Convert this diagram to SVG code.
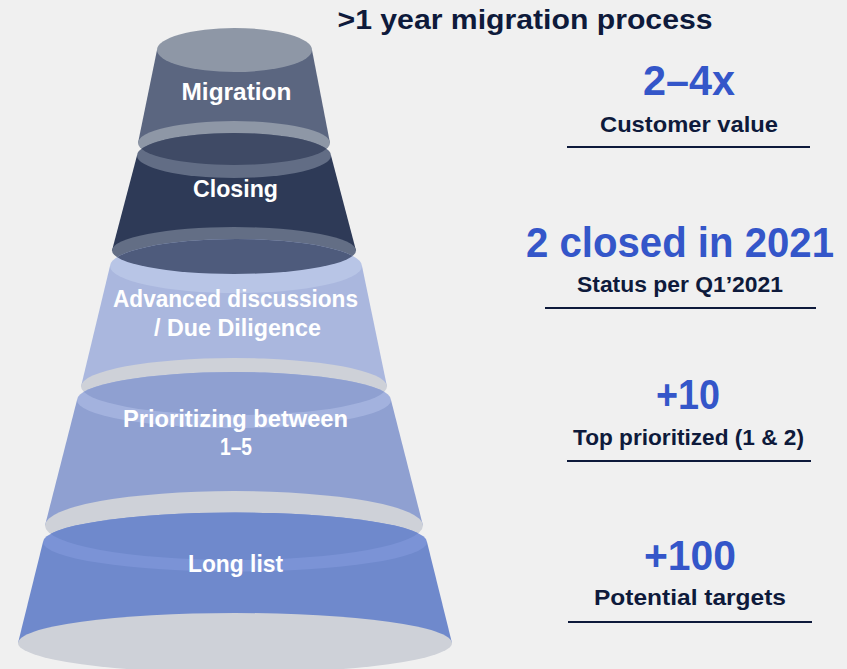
<svg xmlns="http://www.w3.org/2000/svg" width="847" height="669" viewBox="0 0 847 669">
  <style>
    .lbl { font-family: "Liberation Sans", Arial, sans-serif; font-weight: bold; font-size: 23px; fill: #ffffff; text-anchor: middle; }
    .title { font-family: "Liberation Sans", Arial, sans-serif; font-weight: bold; font-size: 27px; fill: #0e1a3b; text-anchor: middle; }
    .big { font-family: "Liberation Sans", Arial, sans-serif; font-weight: bold; font-size: 42px; fill: #3456c9; text-anchor: middle; }
    .sub { font-family: "Liberation Sans", Arial, sans-serif; font-weight: bold; font-size: 22px; fill: #0e1a3b; text-anchor: middle; }
    .rule { stroke: #0e1a3b; stroke-width: 2; }
  </style>
  <defs>
    <!-- bottom faces of each frustum, reused as clips for the overlap tint -->
    <clipPath id="clipA"><ellipse cx="234" cy="143" rx="96" ry="22"/></clipPath>
    <clipPath id="clipB"><ellipse cx="234" cy="250.5" rx="122" ry="23.5"/></clipPath>
    <clipPath id="clipC"><ellipse cx="234" cy="386.5" rx="153" ry="28.5"/></clipPath>
    <clipPath id="clipD"><ellipse cx="234" cy="525.5" rx="189" ry="34.5"/></clipPath>
  </defs>

  <rect width="847" height="669" fill="#f0f0f0"/>

  <!-- funnel tiers, top to bottom -->
  <g id="tier-migration">
    <polygon points="157,50 138,143 330,143 312,50" fill="#5b6680"/>
    <ellipse cx="234.5" cy="50" rx="77.5" ry="22" fill="#8e97a6"/>
    <ellipse cx="234" cy="143" rx="96" ry="22" fill="#8e97a6"/>
    <text class="lbl" x="236.5" y="100" textLength="110" lengthAdjust="spacingAndGlyphs">Migration</text>
  </g>

  <g id="tier-closing">
    <polygon points="137,155.5 112,250.5 356,250.5 331,155.5" fill="#2e3a57"/>
    <ellipse cx="234" cy="155.5" rx="97" ry="22.5" fill="#626d85"/>
    <ellipse cx="234" cy="155.5" rx="97" ry="22.5" fill="#3f4a65" clip-path="url(#clipA)"/>
    <ellipse cx="234" cy="250.5" rx="122" ry="23.5" fill="#636e85"/>
    <text class="lbl" x="235.5" y="197" textLength="85" lengthAdjust="spacingAndGlyphs">Closing</text>
  </g>

  <g id="tier-advanced">
    <polygon points="110,266 81,386.5 387,386.5 362,266" fill="#aab7de"/>
    <ellipse cx="236" cy="266" rx="126" ry="27" fill="#b8c5e6"/>
    <ellipse cx="236" cy="266" rx="126" ry="27" fill="#4e5b7c" clip-path="url(#clipB)"/>
    <ellipse cx="234" cy="386.5" rx="153" ry="28.5" fill="#ced1d8"/>
    <text class="lbl" x="235.5" y="307" textLength="245" lengthAdjust="spacingAndGlyphs">Advanced discussions</text>
    <text class="lbl" x="237.5" y="336" textLength="167" lengthAdjust="spacingAndGlyphs">/ Due Diligence</text>
  </g>

  <g id="tier-prioritizing">
    <polygon points="77,400 45,525.5 423,525.5 391,400" fill="#8fa0d1"/>
    <ellipse cx="234" cy="400" rx="157" ry="28" fill="#a3b2de"/>
    <ellipse cx="234" cy="400" rx="157" ry="28" fill="#8fa0d1" clip-path="url(#clipC)"/>
    <ellipse cx="234" cy="525.5" rx="189" ry="34.5" fill="#ced1d8"/>
    <text class="lbl" x="235.5" y="427" textLength="225" lengthAdjust="spacingAndGlyphs">Prioritizing between</text>
    <text class="lbl" x="236" y="455" textLength="32" lengthAdjust="spacingAndGlyphs">1–5</text>
  </g>

  <g id="tier-longlist">
    <polygon points="43,542 18,643 452,643 427,542" fill="#6f89cc"/>
    <ellipse cx="235" cy="542" rx="192" ry="29.5" fill="#7b93d6"/>
    <ellipse cx="235" cy="542" rx="192" ry="29.5" fill="#6f89cc" clip-path="url(#clipD)"/>
    <ellipse cx="235" cy="643" rx="217" ry="30" fill="#ced1d8"/>
    <text class="lbl" x="235.5" y="572" textLength="95" lengthAdjust="spacingAndGlyphs">Long list</text>
  </g>

  <!-- heading and key figures -->
  <g id="heading">
    <text class="title" x="525" y="29" textLength="375" lengthAdjust="spacingAndGlyphs">&gt;1 year migration process</text>
  </g>

  <g id="stat-value">
    <text class="big" x="689" y="95" textLength="92" lengthAdjust="spacingAndGlyphs">2–4x</text>
    <text class="sub" x="689" y="132" textLength="178" lengthAdjust="spacingAndGlyphs">Customer value</text>
    <line class="rule" x1="567" y1="147" x2="810" y2="147"/>
  </g>

  <g id="stat-closed">
    <text class="big" x="680" y="257" textLength="308" lengthAdjust="spacingAndGlyphs">2 closed in 2021</text>
    <text class="sub" x="680" y="292" textLength="206" lengthAdjust="spacingAndGlyphs">Status per Q1’2021</text>
    <line class="rule" x1="545" y1="308" x2="816" y2="308"/>
  </g>

  <g id="stat-prioritized">
    <text class="big" x="688" y="409" textLength="64" lengthAdjust="spacingAndGlyphs">+10</text>
    <text class="sub" x="688.5" y="445" textLength="231" lengthAdjust="spacingAndGlyphs">Top prioritized (1 &amp; 2)</text>
    <line class="rule" x1="567" y1="461" x2="811" y2="461"/>
  </g>

  <g id="stat-targets">
    <text class="big" x="690" y="570" textLength="92" lengthAdjust="spacingAndGlyphs">+100</text>
    <text class="sub" x="690" y="605" textLength="192" lengthAdjust="spacingAndGlyphs">Potential targets</text>
    <line class="rule" x1="568" y1="622" x2="812" y2="622"/>
  </g>
</svg>
